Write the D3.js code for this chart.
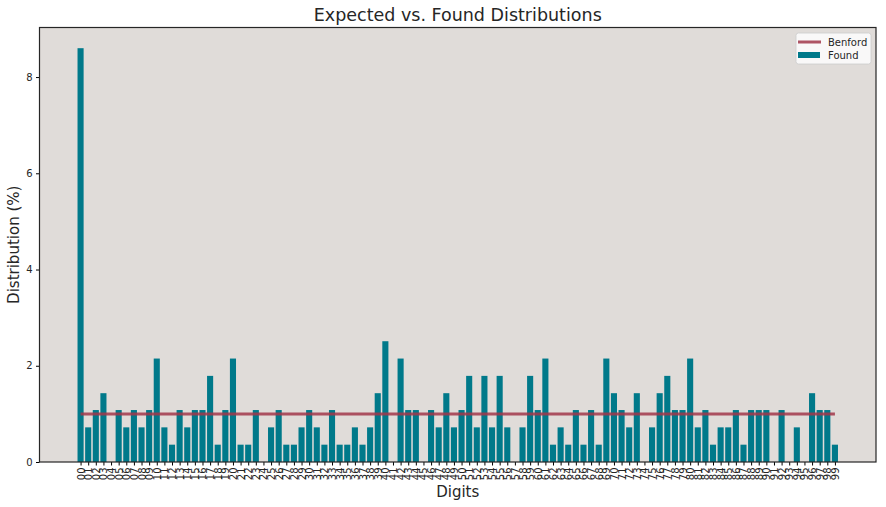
<!DOCTYPE html>
<html>
<head>
<meta charset="utf-8">
<script src="https://cdn.jsdelivr.net/npm/d3@7"></script>
<style>
  body { margin: 0; background: #fff; }
  svg text { font-family: "DejaVu Sans", sans-serif; fill: #262626; }
</style>
</head>
<body>
<div id="chart"></div>
<script>
// digits 00..99
var digits = d3.range(100).map(function(d) { return (d < 10 ? "0" : "") + d; });

// found distribution (%) per digit pair
var found = [
  8.60, 0.72, 1.08, 1.43, 0.00, 1.08, 0.72, 1.08, 0.72, 1.08,
  2.15, 0.72, 0.36, 1.08, 0.72, 1.08, 1.08, 1.79, 0.36, 1.08,
  2.15, 0.36, 0.36, 1.08, 0.00, 0.72, 1.08, 0.36, 0.36, 0.72,
  1.08, 0.72, 0.36, 1.08, 0.36, 0.36, 0.72, 0.36, 0.72, 1.43,
  2.51, 0.00, 2.15, 1.08, 1.08, 0.00, 1.08, 0.72, 1.43, 0.72,
  1.08, 1.79, 0.72, 1.79, 0.72, 1.79, 0.72, 0.00, 0.72, 1.79,
  1.08, 2.15, 0.36, 0.72, 0.36, 1.08, 0.36, 1.08, 0.36, 2.15,
  1.43, 1.08, 0.72, 1.43, 0.00, 0.72, 1.43, 1.79, 1.08, 1.08,
  2.15, 0.72, 1.08, 0.36, 0.72, 0.72, 1.08, 0.36, 1.08, 1.08,
  1.08, 0.00, 1.08, 0.00, 0.72, 0.00, 1.43, 1.08, 1.08, 0.36
];

// expected (Benford, last two digits) is flat 1%
var benford = digits.map(function() { return 1.0; });

var yTicks = [0, 2, 4, 6, 8];

var width = 886,
    height = 507;
var margin = {left: 39.5, right: 10, top: 27.5, bottom: 45};

var svg = d3.select("#chart")
    .append("svg")
    .attr("width", width)
    .attr("height", height);

// x as a linear scale so the padding matches the original
var pad = 0.4 + 0.05 * 99.8;
var x = d3.scaleLinear()
    .domain([-pad, 99 + pad])
    .range([margin.left, width - margin.right]);

var yMax = d3.max(found) * 1.05;
var y = d3.scaleLinear()
    .domain([0, yMax])
    .range([height - margin.bottom, margin.top]);

// plot background
svg.append("rect")
    .attr("x", margin.left)
    .attr("y", margin.top)
    .attr("width", width - margin.right - margin.left)
    .attr("height", height - margin.bottom - margin.top)
    .style("fill", "#e0dcd9");

var bw = x(0.8) - x(0);

// bars
svg.append("g")
    .selectAll("rect")
    .data(found)
    .enter()
    .append("rect")
    .attr("x", function(d, i) { return x(i) - bw / 2; })
    .attr("y", function(d) { return y(d); })
    .attr("width", bw)
    .attr("height", function(d) { return y(0) - y(d); })
    .style("fill", "#00798a");

// Benford line
var line = d3.line()
    .x(function(d, i) { return x(i); })
    .y(function(d) { return y(d); });

svg.append("path")
    .datum(benford)
    .attr("d", line)
    .style("fill", "none")
    .style("stroke", "#a1374a")
    .style("stroke-opacity", 0.85)
    .style("stroke-width", 3);

// axes
var xAxis = d3.axisBottom(x)
    .tickValues(d3.range(100))
    .tickFormat(function(d) { return digits[d]; })
    .tickSize(3.5)
    .tickSizeOuter(0);

var gx = svg.append("g")
    .attr("transform", "translate(0," + y(0) + ")")
    .call(xAxis);
gx.select(".domain").remove();
gx.selectAll("text")
    .attr("transform", "rotate(-90)")
    .attr("x", -5.5)
    .attr("y", 0)
    .attr("dy", "0.35em")
    .style("text-anchor", "end")
    .style("font-size", "10px");

var yAxis = d3.axisLeft(y)
    .tickValues(yTicks)
    .tickSize(3.5)
    .tickPadding(3.5);

var gy = svg.append("g")
    .attr("transform", "translate(" + margin.left + ",0)")
    .call(yAxis);
gy.select(".domain").remove();
gy.selectAll("text").style("font-size", "10px");

// frame
svg.append("rect")
    .attr("x", margin.left)
    .attr("y", margin.top)
    .attr("width", width - margin.right - margin.left)
    .attr("height", height - margin.bottom - margin.top)
    .style("fill", "none")
    .style("stroke", "#262626")
    .style("stroke-width", 1.2);

// titles
var cx = (margin.left + width - margin.right) / 2;
svg.append("text")
    .attr("x", cx)
    .attr("y", 21)
    .attr("text-anchor", "middle")
    .style("font-size", "17.5px")
    .text("Expected vs. Found Distributions");

svg.append("text")
    .attr("x", cx)
    .attr("y", 497)
    .attr("text-anchor", "middle")
    .style("font-size", "15px")
    .text("Digits");

svg.append("text")
    .attr("transform", "translate(19," + ((margin.top + height - margin.bottom) / 2) + ") rotate(-90)")
    .attr("text-anchor", "middle")
    .style("font-size", "15px")
    .text("Distribution (%)");

// legend
var lg = svg.append("g").attr("transform", "translate(796,33)");
lg.append("rect")
    .attr("width", 75)
    .attr("height", 31)
    .attr("rx", 2.5)
    .style("fill", "#ffffff")
    .style("fill-opacity", 0.8)
    .style("stroke", "#cccccc")
    .style("stroke-width", 0.8);
lg.append("line")
    .attr("x1", 2).attr("x2", 25)
    .attr("y1", 9).attr("y2", 9)
    .style("stroke", "#a1374a")
    .style("stroke-opacity", 0.85)
    .style("stroke-width", 3);
lg.append("text")
    .attr("x", 32).attr("y", 12.5)
    .style("font-size", "10px")
    .text("Benford");
lg.append("rect")
    .attr("x", 2).attr("y", 19)
    .attr("width", 22).attr("height", 6)
    .style("fill", "#00798a");
lg.append("text")
    .attr("x", 32).attr("y", 26)
    .style("font-size", "10px")
    .text("Found");
</script>
</body>
</html>
